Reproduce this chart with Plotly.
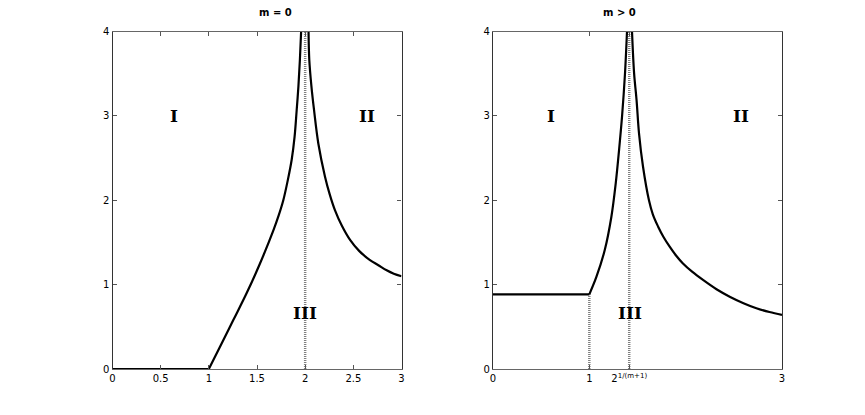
import plotly.graph_objects as go
from plotly.subplots import make_subplots

# ---- m = 0 (left panel) ----
m0_floor_x = [0.0, 1.0]
m0_floor_y = [0.0, 0.0]
m0_left_x = [1.0, 1.116, 1.254, 1.393, 1.531, 1.669, 1.725, 1.773, 1.82, 1.86, 1.89, 1.912, 1.93, 1.945, 1.958]
m0_left_y = [0.0, 0.264, 0.58, 0.90, 1.25, 1.64, 1.82, 2.0, 2.24, 2.48, 2.75, 3.07, 3.35, 3.66, 4.0]
m0_right_x = [2.035, 2.043, 2.065, 2.092, 2.137, 2.206, 2.255, 2.31, 2.38, 2.466, 2.56, 2.673, 2.76, 2.846, 2.92, 3.0]
m0_right_y = [4.0, 3.66, 3.35, 3.07, 2.67, 2.28, 2.07, 1.88, 1.70, 1.53, 1.40, 1.29, 1.23, 1.17, 1.13, 1.10]
m0_asym_x = 2.0

# ---- m > 0 (right panel) ----
m1_floor_x = [0.0, 1.0]
m1_floor_y = [0.885, 0.885]
m1_left_x = [1.0, 1.074, 1.16, 1.229, 1.274, 1.309, 1.34, 1.37, 1.391]
m1_left_y = [0.885, 1.094, 1.41, 1.805, 2.20, 2.60, 3.0, 3.5, 4.0]
m1_right_x = [1.443, 1.465, 1.49, 1.516, 1.557, 1.619, 1.66, 1.713, 1.77, 1.834, 1.90, 1.972,
              2.07, 2.18, 2.32, 2.457, 2.60, 2.734, 2.87, 3.0]
m1_right_y = [4.0, 3.5, 3.19, 2.79, 2.40, 2.00, 1.83, 1.69, 1.565, 1.45, 1.345, 1.25,
              1.15, 1.055, 0.945, 0.857, 0.78, 0.72, 0.675, 0.64]
m1_kink_x = 1.0
m1_asym_x = 1.414

titles = ["m = 0", "m > 0"]
m0_xticks = [0, 0.5, 1, 1.5, 2, 2.5, 3]
m0_xticklabels = ["0", "0.5", "1", "1.5", "2", "2.5", "3"]
m1_xticks = [0, 1, m1_asym_x, 3]
m1_xticklabels = ["0", "1", "2<sup>1/(m+1)</sup>", "3"]
yticks = [0, 1, 2, 3, 4]

region_labels = ["I", "II", "III"]
m0_label_pos = [(0.64, 3.0), (2.64, 3.0), (2.0, 0.66)]
m1_label_pos = [(0.6, 3.0), (2.57, 3.0), (1.42, 0.66)]

W, H = 865, 415
fig = make_subplots(rows=1, cols=2)

CURVE = dict(color="black", width=2.2)
DOTTED = dict(color="#808080", width=2.5, dash="1px,1px")
SANS = "DejaVu Sans, Liberation Sans, Arial"


def curve(x, y, col, shape="spline"):
    fig.add_trace(go.Scatter(x=x, y=y, mode="lines",
                             line=dict(CURVE, shape=shape, smoothing=1.0),
                             showlegend=False, hoverinfo="skip"), row=1, col=col)


def vline(x, y0, y1, col):
    fig.add_trace(go.Scatter(x=[x, x], y=[y0, y1], mode="lines", line=DOTTED,
                             showlegend=False, hoverinfo="skip"), row=1, col=col)


# left panel
vline(m0_asym_x, 0, 4, 1)
curve(m0_floor_x, m0_floor_y, 1, "linear")
curve(m0_left_x, m0_left_y, 1)
curve(m0_right_x, m0_right_y, 1)

# right panel
vline(m1_kink_x, 0, m1_floor_y[0], 2)
vline(m1_asym_x, 0, 4, 2)
curve(m1_floor_x, m1_floor_y, 2, "linear")
curve(m1_left_x, m1_left_y, 2)
curve(m1_right_x, m1_right_y, 2)

# region labels
for col, positions in ((1, m0_label_pos), (2, m1_label_pos)):
    xref = "x" if col == 1 else "x2"
    yref = "y" if col == 1 else "y2"
    for lab, (lx, ly) in zip(region_labels, positions):
        fig.add_annotation(x=lx, y=ly, xref=xref, yref=yref, text="<b>" + lab + "</b>",
                           showarrow=False,
                           font=dict(family="DejaVu Serif, serif", size=17, color="black"))

# panel titles
x_domains = [[112.5 / W, 401.5 / W], [493 / W, 782 / W]]
y_domain = [46 / H, 383.5 / H]
for dom, t in zip(x_domains, titles):
    fig.add_annotation(x=(dom[0] + dom[1]) / 2, y=y_domain[1], xref="paper", yref="paper",
                       yanchor="bottom", yshift=12, text="<b>" + t + "</b>", showarrow=False,
                       font=dict(family=SANS, size=10, color="black"))

axis_common = dict(ticks="inside", ticklen=4, tickcolor="#555", mirror="ticks", showline=True,
                   showgrid=False, zeroline=False, automargin=False,
                   tickfont=dict(family=SANS, size=10, color="black"))

fig.update_xaxes(axis_common, linecolor="#666", linewidth=1.2, range=[0, 3])
fig.update_yaxes(axis_common, linecolor="#333", linewidth=1.2, range=[0, 4],
                 tickvals=yticks, ticktext=[str(v) for v in yticks])
fig.update_xaxes(domain=x_domains[0], tickvals=m0_xticks, ticktext=m0_xticklabels, row=1, col=1)
fig.update_xaxes(domain=x_domains[1], tickvals=m1_xticks, ticktext=m1_xticklabels, row=1, col=2)
fig.update_yaxes(domain=y_domain)

fig.update_layout(
    width=W, height=H,
    margin=dict(l=0, r=0, t=0, b=0, pad=0, autoexpand=False),
    paper_bgcolor="white",
    plot_bgcolor="white",
    showlegend=False,
)

# drop the default page margin so the figure sits at the window's corner
fig.write_html("out.html", config={"displayModeBar": False},
               post_script="document.body.style.margin='0';")
